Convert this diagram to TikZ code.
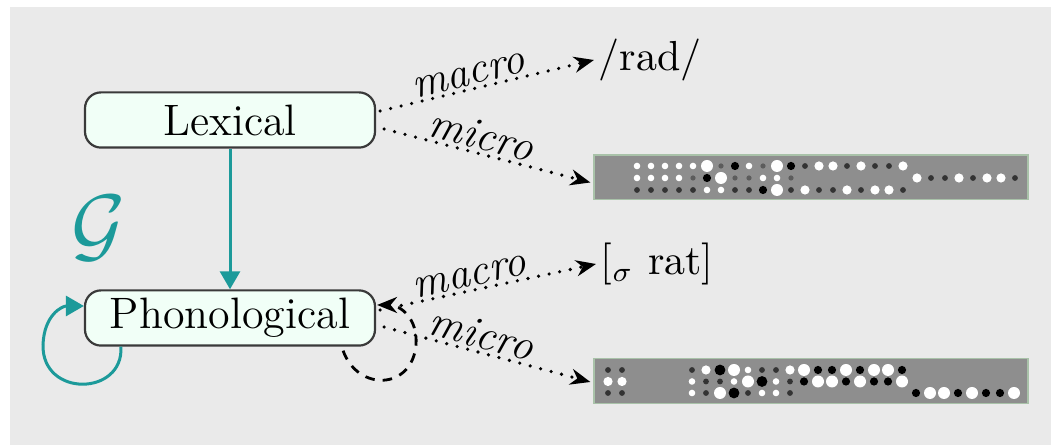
\documentclass[tikz,border=0pt]{standalone}
\usetikzlibrary{arrows.meta,calc}
\definecolor{bgc}{HTML}{EAEAEA}
\definecolor{tealc}{HTML}{1C9A9A}
\definecolor{boxfill}{HTML}{F1FFF7}
\definecolor{boxline}{HTML}{3A3A3A}
\definecolor{stripc}{HTML}{8E8E8E}
\definecolor{stripline}{HTML}{A9C2A9}
\definecolor{darkdot}{HTML}{333333}
\definecolor{graydot}{HTML}{5C5C5C}

\begin{document}
\begin{tikzpicture}[x=0.25pt,y=-0.25pt,
  level/.style={draw=boxline, line width=0.55pt, fill=boxfill, rounded corners=4pt,
    minimum width=72.5pt, minimum height=13.8pt, inner sep=0pt,
    font=\fontsize{11}{13}\selectfont},
  strip/.style={draw=stripline, line width=0.3pt, fill=stripc, inner sep=0pt,
    minimum width=108.5pt, minimum height=11.2pt},
  lbl/.style={inner sep=1pt, font=\fontsize{10.5}{12}\selectfont},
  tag/.style={inner sep=0.5pt, font=\fontsize{11}{13}\selectfont\itshape, sloped, above},
  dots/.style={line width=0.9pt, line cap=round, dash pattern=on 0pt off 2.7pt,
    -{Stealth[length=5pt,width=4pt]}},
  tealarrow/.style={draw=tealc, line width=0.75pt, -{Triangle[length=4.5pt,width=5pt]}},
  loopdash/.style={line width=0.7pt, dash pattern=on 2.4pt off 2pt,
    -{Stealth[length=5pt,width=4pt]}},
  c-wb/.style={fill=white, radius=6},
  c-wm/.style={fill=white, radius=4.6},
  c-ws/.style={fill=white, radius=3.3},
  c-ds/.style={fill=darkdot, radius=2.9},
  c-gs/.style={fill=graydot, radius=2.6},
  c-km/.style={fill=black, radius=4.1},
  c-kb/.style={fill=black, radius=5.4}]

% canvas
\fill[white] (0,0) rectangle (1051,445);
\fill[bgc] (10,7) rectangle (1051,445);
\useasboundingbox (0,0) rectangle (1051,445);

% levels
\node[level] (lex) at (230,120) {Lexical};
\node[level] (ph) at (230,318) {Phonological};

% grammar
\node[text=tealc, inner sep=0pt, font=\fontsize{22}{22}\selectfont] (g) at (99,228) {$\mathcal{G}$};
\draw[tealarrow] (lex) -- (ph);
\draw[tealarrow] ($(ph.south west)+(37,0)$) .. controls (124,396) and (42,398) .. (43,345)
  .. controls (44,315) and (62,306) .. ($(ph.west)+(0,-12)$);

% feedback loop on the phonological level
\draw[loopdash] ($(ph.south east)+(-33,4)$) .. controls (358,392) and (412,390) .. (416,345)
  .. controls (418,318) and (400,305) .. ($(ph.east)+(1,-13)$);

% outputs
\node[lbl, anchor=west] (rad) at (594,60) {/rad/};
\node[lbl, anchor=west] (rat) at (596,264) {[$_\sigma$ rat]};
\node[strip] (m1) at (811,177.5) {};
\node[strip] (m2) at (811,381) {};

% macro / micro readouts
\draw[dots] ($(lex.east)+(4,-9)$) -- node[tag, pos=0.43] {macro} (rad.west);
\draw[dots] ($(lex.east)+(8,9)$) -- node[tag, pos=0.45] {micro} ($(m1.west)+(-3,5)$);
\draw[dots] ($(ph.east)+(4,-8)$) -- node[tag, pos=0.43] {macro} (rat.west);
\draw[dots] ($(ph.east)+(8,9)$) -- node[tag, pos=0.45] {micro} ($(m2.west)+(-3,1)$);

% activation pattern, upper strip
\foreach \j/\t in {0/ws,1/ws,2/ws,3/ws,4/ws,5/wb,6/gs,7/km,8/ws,9/gs,10/wb,11/km,12/ds,13/wm,14/wm,15/ds,16/wm,17/ds,18/ds,19/wm}
  \fill[c-\t] (637+14*\j,166) circle;
\foreach \j/\t in {0/ws,1/ws,2/ws,3/ws,4/gs,5/km,6/wb,7/gs,8/gs,9/ws,10/ws,11/gs,20/wm,21/ds,22/ds,23/wm,24/ds,25/wm,26/wm,27/ds}
  \fill[c-\t] (637+14*\j,178) circle;
\foreach \j/\t in {0/ds,1/ds,2/ds,3/ds,4/ds,5/ws,6/ws,7/ds,8/ds,9/km,10/wb,11/ds,12/wm,13/ds,14/ds,15/wm,16/ds,17/wm,18/wm,19/ds}
  \fill[c-\t] (637+14*\j,190) circle;

% activation pattern, lower strip
\foreach \j/\t in {0/ds,1/ds,6/ds,7/wm,8/kb,9/wb,10/ws,11/ds,12/ds,13/wm,14/wb,15/km,16/km,17/wb,18/km,19/wb,20/wb,21/km}
  \fill[c-\t] (608+14*\j,370) circle;
\foreach \j/\t in {0/wm,1/wm,6/ws,7/ds,8/ds,9/ws,10/wb,11/kb,12/ws,13/ds,14/km,15/wb,16/wb,17/km,18/wb,19/km,20/km,21/wb}
  \fill[c-\t] (608+14*\j,381.5) circle;
\foreach \j/\t in {0/ds,1/ds,6/ws,7/ds,8/wb,9/kb,10/ds,11/ws,12/ws,13/ds,22/km,23/wb,24/wb,25/km,26/wb,27/km,28/km,29/wb}
  \fill[c-\t] (608+14*\j,393) circle;
\end{tikzpicture}
\end{document}
